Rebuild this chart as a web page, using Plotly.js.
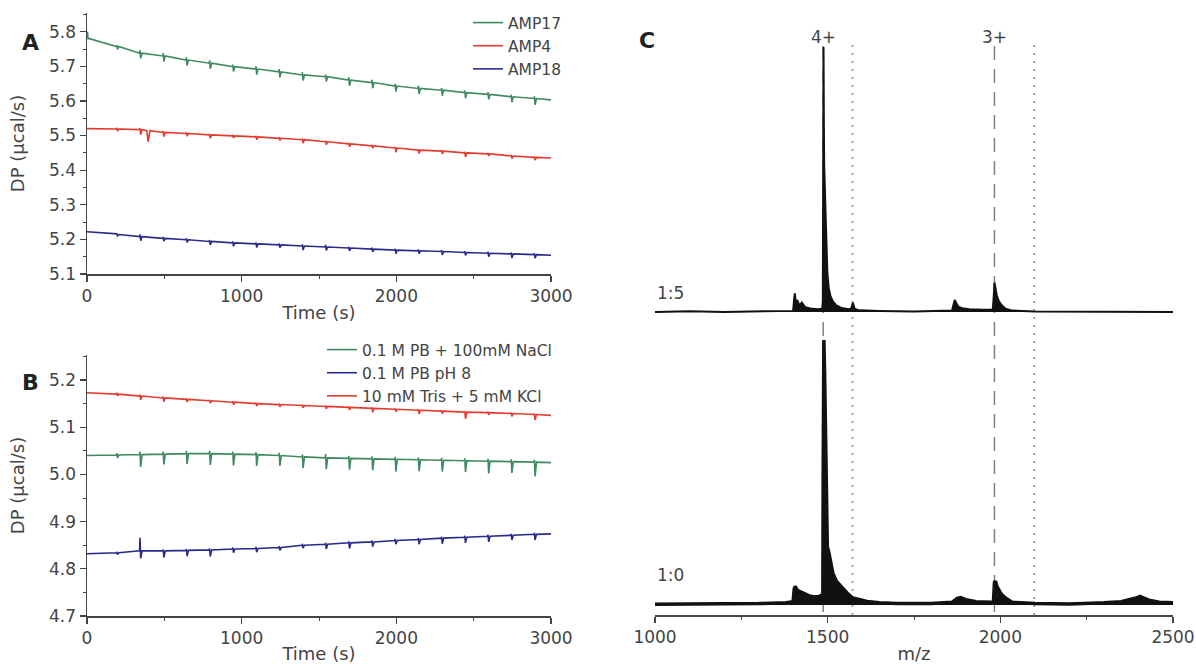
<!DOCTYPE html>
<html>
<head>
<meta charset="utf-8">
<script src="https://cdn.plot.ly/plotly-3.0.1.min.js"></script>
<style>
html,body{margin:0;padding:0;background:#fff;}
#chart{width:1196px;height:664px;}
</style>
</head>
<body>
<div id="chart"></div>
<script>
// ---------- Panel A & B: ITC traces (time in s, DP in µcal/s) ----------
const times = [0, 190, 340, 490, 640, 790, 940, 1090, 1240, 1390, 1540, 1690, 1840, 1990, 2140, 2290, 2440, 2590, 2740, 2890, 3000];

// Panel A
const amp17Base = [5.780, 5.757, 5.738, 5.730, 5.718, 5.709, 5.699, 5.692, 5.684, 5.675, 5.670, 5.660, 5.653, 5.643, 5.636, 5.631, 5.624, 5.619, 5.612, 5.607, 5.603];
const amp17Down = [0.000, 0.008, 0.015, 0.016, 0.016, 0.016, 0.014, 0.016, 0.016, 0.016, 0.014, 0.016, 0.016, 0.016, 0.016, 0.016, 0.016, 0.014, 0.016, 0.018, 0];
const amp17Up   = [0.020, 0.004, 0.008, 0.008, 0.008, 0.008, 0.006, 0.008, 0.008, 0.008, 0.006, 0.008, 0.008, 0.006, 0.008, 0.006, 0.006, 0.006, 0.006, 0.006, 0];

const amp4Base = [5.520, 5.519, 5.517, 5.509, 5.506, 5.502, 5.499, 5.496, 5.492, 5.488, 5.482, 5.476, 5.470, 5.464, 5.458, 5.455, 5.450, 5.447, 5.441, 5.437, 5.435];
const amp4Down = [0, 0.006, 0.014, 0.012, 0.008, 0.010, 0.006, 0.008, 0.006, 0.010, 0.008, 0.008, 0.006, 0.012, 0.010, 0.008, 0.012, 0.006, 0.008, 0.008, 0];
const amp4Up   = [0, 0.003, 0.004, 0.004, 0.003, 0.003, 0.003, 0.003, 0.003, 0.003, 0.003, 0.003, 0.003, 0.003, 0.003, 0.003, 0.003, 0.003, 0.003, 0.003, 0];
// extra dip in AMP4 trace near 400 s
const amp4DipTime = [395];
const amp4DipValue = [5.482];

const amp18Base = [5.222, 5.214, 5.208, 5.203, 5.199, 5.194, 5.190, 5.187, 5.184, 5.181, 5.178, 5.175, 5.172, 5.169, 5.167, 5.165, 5.162, 5.160, 5.158, 5.156, 5.154];
const amp18Down = [0, 0.004, 0.012, 0.008, 0.008, 0.010, 0.010, 0.010, 0.008, 0.012, 0.010, 0.008, 0.008, 0.010, 0.008, 0.010, 0.008, 0.010, 0.012, 0.010, 0];
const amp18Up   = [0, 0.002, 0.006, 0.004, 0.004, 0.004, 0.004, 0.004, 0.004, 0.004, 0.006, 0.004, 0.004, 0.004, 0.004, 0.004, 0.004, 0.004, 0.004, 0.004, 0];

// Panel B
const naclBase = [5.040, 5.041, 5.042, 5.043, 5.044, 5.044, 5.043, 5.042, 5.040, 5.037, 5.035, 5.034, 5.033, 5.032, 5.031, 5.030, 5.029, 5.028, 5.027, 5.026, 5.025];
const naclDown = [0, 0.006, 0.026, 0.022, 0.022, 0.024, 0.024, 0.024, 0.022, 0.024, 0.024, 0.024, 0.024, 0.026, 0.024, 0.024, 0.024, 0.026, 0.024, 0.030, 0];
const naclUp   = [0, 0.004, 0.006, 0.005, 0.006, 0.006, 0.005, 0.005, 0.006, 0.005, 0.008, 0.005, 0.005, 0.005, 0.005, 0.005, 0.005, 0.005, 0.005, 0.005, 0];

const pbBase = [4.832, 4.834, 4.838, 4.838, 4.839, 4.840, 4.842, 4.843, 4.845, 4.850, 4.852, 4.855, 4.857, 4.860, 4.862, 4.865, 4.867, 4.869, 4.871, 4.873, 4.874];
const pbDown = [0, 0.004, 0.016, 0.014, 0.012, 0.014, 0.008, 0.008, 0.006, 0.006, 0.010, 0.012, 0.010, 0.008, 0.010, 0.012, 0.012, 0.012, 0.010, 0.012, 0];
const pbUp   = [0, 0.002, 0.028, 0.003, 0.003, 0.003, 0.003, 0.003, 0.003, 0.003, 0.003, 0.003, 0.003, 0.003, 0.003, 0.003, 0.003, 0.003, 0.003, 0.003, 0];

const trisBase = [5.173, 5.170, 5.166, 5.162, 5.159, 5.156, 5.153, 5.150, 5.148, 5.146, 5.144, 5.142, 5.140, 5.138, 5.136, 5.134, 5.132, 5.131, 5.129, 5.127, 5.125];
const trisDown = [0, 0.003, 0.008, 0.008, 0.005, 0.005, 0.005, 0.005, 0.005, 0.005, 0.005, 0.005, 0.008, 0.005, 0.008, 0.005, 0.014, 0.005, 0.006, 0.012, 0];
const trisUp   = [0, 0.003, 0.003, 0.003, 0.002, 0.002, 0.002, 0.002, 0.002, 0.002, 0.002, 0.002, 0.002, 0.002, 0.002, 0.002, 0.002, 0.002, 0.002, 0.002, 0];

const legendA = ["AMP17", "AMP4", "AMP18"];
const legendB = ["0.1 M PB + 100mM NaCl", "0.1 M PB pH 8", "10 mM Tris + 5 mM KCl"];

// ---------- Panel C: mass spectra (m/z, relative intensity) ----------
const mz15  = [1000, 1100, 1200, 1300, 1400, 1403, 1405, 1408, 1412, 1418, 1425, 1435, 1450, 1470, 1484, 1486, 1487, 1488, 1489, 1490, 1492, 1494, 1496, 1499, 1503, 1508, 1515, 1525, 1540, 1560, 1568, 1573, 1578, 1590, 1650, 1750, 1860, 1868, 1872, 1878, 1890, 1910, 1950, 1978, 1981, 1983, 1986, 1990, 1996, 2004, 2015, 2035, 2100, 2200, 2300, 2400, 2500];
const int15 = [0, 0.3, 0, 0.3, 0.4, 5, 7, 3.5, 4.5, 2.5, 3.5, 1.8, 1.3, 1.0, 1.2, 4, 40, 100, 70, 55, 45, 35, 25, 15, 9, 6, 4, 2.5, 1.5, 1, 1.2, 3.5, 1.2, 0.6, 0.4, 0.2, 0.5, 4.5, 3.5, 2, 1.4, 1.0, 0.8, 0.8, 6, 11, 9, 6, 4, 2.5, 1.2, 0.5, 0.2, 0.1, 0, 0.1, 0];

const mz10  = [1000, 1100, 1200, 1300, 1380, 1400, 1403, 1406, 1412, 1420, 1430, 1445, 1460, 1475, 1484, 1486, 1487, 1489, 1491, 1493, 1495, 1496, 1497, 1499, 1503, 1508, 1515, 1525, 1535, 1556, 1573, 1614, 1650, 1700, 1800, 1860, 1875, 1885, 1900, 1930, 1975, 1980, 1983, 1986, 1990, 1996, 2003, 2016, 2034, 2100, 2200, 2300, 2350, 2390, 2405, 2412, 2430, 2460, 2500];
const int10 = [0.3, 0.3, 0.4, 0.5, 0.8, 1.2, 6, 7, 5.5, 5, 4.5, 3.5, 3, 3.2, 3.8, 4, 50, 100, 88, 72, 55, 40, 25, 22, 20, 16, 12, 9, 7.5, 4.5, 2.6, 1.3, 0.8, 0.5, 0.5, 1.0, 2.5, 2.8, 2.0, 1.2, 1.0, 1.2, 8.5, 9, 7, 5.5, 4, 2.5, 1.0, 0.5, 0.4, 0.8, 1.2, 2.5, 3.2, 2.8, 1.8, 1.0, 0.8];

const chargeLabels = ["4+", "3+"];
const chargeMz = [1487, 1983];      // dashed lines
const shiftedMz = [1572, 2098];     // dotted lines
const ratioLabels = ["1:5", "1:0"];

// ---------- build ITC traces (insert injection spikes at each time) ----------
function buildTrace(base, down, up, extraT, extraV) {
  const x = [], y = [];
  for (let i = 0; i < times.length; i++) {
    const t = times[i], b = base[i];
    x.push(t); y.push(b);
    if (up[i] || down[i]) {
      x.push(t + 3); y.push(b + up[i]);
      x.push(t + 7); y.push(b - down[i]);
      x.push(t + 16); y.push(b);
    }
    if (extraT) {
      for (let k = 0; k < extraT.length; k++) {
        if (extraT[k] > t && (i + 1 >= times.length || extraT[k] < times[i + 1])) {
          const bb = b + (base[i + 1] - b) * (extraT[k] - t) / (times[i + 1] - t);
          x.push(extraT[k] - 8); y.push(bb);
          x.push(extraT[k]); y.push(extraV[k]);
          x.push(extraT[k] + 12); y.push(bb);
        }
      }
    }
  }
  return {x, y};
}

const GREEN = "#3f8a60", RED = "#e63a2e", BLUE = "#2b2a8c";
const FONT = "DejaVu Sans, Arial, sans-serif";
const TXT = "#444";

const a1 = buildTrace(amp17Base, amp17Down, amp17Up);
const a2 = buildTrace(amp4Base, amp4Down, amp4Up, amp4DipTime, amp4DipValue);
const a3 = buildTrace(amp18Base, amp18Down, amp18Up);
const b1 = buildTrace(naclBase, naclDown, naclUp);
const b2 = buildTrace(pbBase, pbDown, pbUp);
const b3 = buildTrace(trisBase, trisDown, trisUp);

const lw = 1.6;
const data = [
  {x: a1.x, y: a1.y, name: legendA[0], mode: "lines", line: {color: GREEN, width: lw}, xaxis: "x", yaxis: "y", legend: "legend"},
  {x: a2.x, y: a2.y, name: legendA[1], mode: "lines", line: {color: RED, width: lw}, xaxis: "x", yaxis: "y", legend: "legend"},
  {x: a3.x, y: a3.y, name: legendA[2], mode: "lines", line: {color: BLUE, width: lw}, xaxis: "x", yaxis: "y", legend: "legend"},
  {x: b1.x, y: b1.y, name: legendB[0], mode: "lines", line: {color: GREEN, width: lw}, xaxis: "x2", yaxis: "y2", legend: "legend2"},
  {x: b2.x, y: b2.y, name: legendB[1], mode: "lines", line: {color: BLUE, width: lw}, xaxis: "x2", yaxis: "y2", legend: "legend2"},
  {x: b3.x, y: b3.y, name: legendB[2], mode: "lines", line: {color: RED, width: lw}, xaxis: "x2", yaxis: "y2", legend: "legend2"},
  {x: mz10, y: int10, name: ratioLabels[1], mode: "lines", fill: "tozeroy", fillcolor: "#111",
   line: {color: "#111", width: 3.5}, xaxis: "x3", yaxis: "y3", showlegend: false},
  {x: mz15, y: int15, name: ratioLabels[0], mode: "lines", fill: "tozeroy", fillcolor: "#111",
   line: {color: "#111", width: 2}, xaxis: "x3", yaxis: "y4", showlegend: false}
];

const W = 1196, H = 664;
const px = v => v / W, py = v => 1 - v / H;

const TICKFONT = {family: FONT, size: 17, color: TXT};
const TITLEFONT = {family: FONT, size: 18, color: TXT};
const LEGFONT = {family: FONT, size: 15.5, color: TXT};
const axisCommon = {
  showline: true, linecolor: "#444", linewidth: 1.5, mirror: false,
  ticks: "outside", ticklen: 6, tickwidth: 1.3, tickcolor: "#444",
  showgrid: false, zeroline: false,
  tickfont: TICKFONT,
  minor: {ticks: "outside", ticklen: 3, tickwidth: 1, tickcolor: "#444", showgrid: false}
};

const layout = {
  width: W, height: H,
  margin: {l: 0, r: 0, t: 0, b: 0},
  paper_bgcolor: "#fff", plot_bgcolor: "rgba(0,0,0,0)",
  font: {family: FONT, color: TXT},
  xaxis: Object.assign({}, axisCommon, {
    domain: [px(87), px(551)], anchor: "y", range: [0, 3000], tickvals: [0, 1000, 2000, 3000],
    minor: Object.assign({}, axisCommon.minor, {dtick: 500}),
    title: {text: "Time (s)", font: TITLEFONT, standoff: 1}
  }),
  yaxis: Object.assign({}, axisCommon, {
    domain: [py(274), py(13)], anchor: "x", range: [5.1, 5.854], dtick: 0.1, tickformat: ".1f",
    minor: Object.assign({}, axisCommon.minor, {dtick: 0.05}),
    title: {text: "DP (µcal/s)", font: TITLEFONT, standoff: 20}
  }),
  xaxis2: Object.assign({}, axisCommon, {
    domain: [px(87), px(551)], anchor: "y2", range: [0, 3000], tickvals: [0, 1000, 2000, 3000],
    minor: Object.assign({}, axisCommon.minor, {dtick: 500}),
    title: {text: "Time (s)", font: TITLEFONT, standoff: 1}
  }),
  yaxis2: Object.assign({}, axisCommon, {
    domain: [py(616), py(355)], anchor: "x2", range: [4.7, 5.253], dtick: 0.1, tickformat: ".1f",
    minor: Object.assign({}, axisCommon.minor, {dtick: 0.05}),
    title: {text: "DP (µcal/s)", font: TITLEFONT, standoff: 20}
  }),
  xaxis3: Object.assign({}, axisCommon, {
    domain: [px(655), px(1173)], anchor: "y3", range: [1000, 2500], tickvals: [1000, 1500, 2000, 2500],
    minor: Object.assign({}, axisCommon.minor, {dtick: 250}),
    title: {text: "m/z", font: TITLEFONT, standoff: 1}
  }),
  yaxis3: {domain: [py(615), py(330)], anchor: "x3", range: [-3.8, 103.8], visible: false, fixedrange: true},
  yaxis4: {domain: [py(322), py(37)], anchor: "x3", range: [-3.8, 103.8], visible: false, fixedrange: true},
  legend: {
    x: px(468), y: py(6), xanchor: "left", yanchor: "top", bgcolor: "rgba(0,0,0,0)",
    font: LEGFONT, tracegroupgap: 0, itemwidth: 30
  },
  legend2: {
    x: px(322), y: py(333), xanchor: "left", yanchor: "top", bgcolor: "rgba(0,0,0,0)",
    font: LEGFONT, tracegroupgap: 0, itemwidth: 30
  },
  shapes: [],
  annotations: [
    {text: "<b>A</b>", x: px(20), y: py(28), xref: "paper", yref: "paper", showarrow: false, font: {family: FONT, size: 22, color: "#222"}},
    {text: "<b>B</b>", x: px(20), y: py(382), xref: "paper", yref: "paper", showarrow: false, font: {family: FONT, size: 22, color: "#222"}},
    {text: "<b>C</b>", x: px(647), y: py(26), xref: "paper", yref: "paper", showarrow: false, font: {family: FONT, size: 22, color: "#222"}},
    {text: ratioLabels[0], x: 1000, xanchor: "left", y: py(293), xref: "x3", yref: "paper", showarrow: false, font: {family: FONT, size: 17, color: TXT}},
    {text: ratioLabels[1], x: 1000, xanchor: "left", y: py(587), xref: "x3", yref: "paper", showarrow: false, font: {family: FONT, size: 17, color: TXT}}
  ]
};

for (let i = 0; i < chargeMz.length; i++) {
  layout.shapes.push({type: "line", xref: "x3", yref: "paper", x0: chargeMz[i], x1: chargeMz[i], y0: py(612), y1: py(44),
    line: {color: "#808080", width: 1.5, dash: "14px,9px"}, layer: "below"});
  layout.shapes.push({type: "line", xref: "x3", yref: "paper", x0: shiftedMz[i], x1: shiftedMz[i], y0: py(615), y1: py(44),
    line: {color: "#9a9a9a", width: 1.8, dash: "2px,6px"}, layer: "below"});
  layout.annotations.push({text: chargeLabels[i], x: chargeMz[i], y: py(25), xref: "x3", yref: "paper", showarrow: false,
    font: {family: FONT, size: 17, color: TXT}});
}

Plotly.newPlot("chart", data, layout, {displayModeBar: false, staticPlot: true});
</script>
</body>
</html>
